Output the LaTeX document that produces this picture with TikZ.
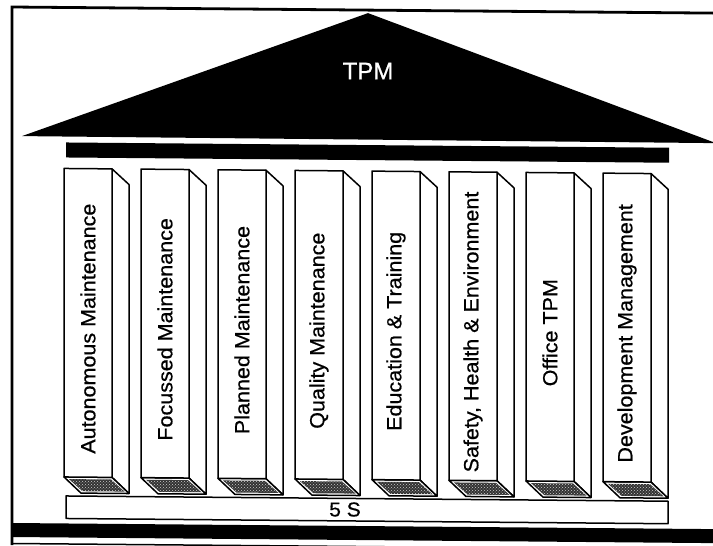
\documentclass[tikz,border=0pt]{standalone}
\usepackage{fontspec}
\setmainfont{Liberation Sans}
\newfontfamily\pillarfont[FakeStretch=1.05,FakeBold=0.6]{Liberation Sans}
\newfontfamily\headfont[FakeBold=0.8]{Liberation Sans}
\usetikzlibrary{patterns}
\begin{document}
\begin{tikzpicture}[x=1pt,y=-1pt,
  pillartext/.style={rotate=90,font=\pillarfont\fontsize{20.5}{24}\selectfont,inner sep=0pt},
  face/.style={draw=black,line width=1.5pt,fill=white,line join=round},
  texture/.style={fill=black!80,postaction={pattern=crosshatch dots,pattern color=white!80!black}},
  frameline/.style={line width=2.8pt}]
\useasboundingbox (0,0) rectangle (713,546);
\fill[white] (0,0) rectangle (713,546);
\begin{scope}[yshift=3.1pt]
\begin{scope}[yslant=-0.0087]
  % frame
  \draw[frameline] (12,548) -- (12,10) -- (720,10);
  \fill (12,526) rectangle (720,540);
  \draw[line width=1.5pt] (12,546.5) -- (720,546.5);
  % roof
  \fill (22,139) -- (368,13) -- (716,140) -- cycle;
  \node[text=white,font=\headfont\fontsize{24}{28}\selectfont] (tpm) at (368,71) {TPM};
  % beam
  \fill (66,145) rectangle (669,160);
  % base
  \draw[face] (66,498.5) rectangle (668,521);
  \node[font=\pillarfont\fontsize{20}{24}\selectfont] (fives) at (345,509.6) {5 S};
  % pillars
  \foreach \i/\t in {0/Autonomous Maintenance,1/Focussed Maintenance,2/Planned Maintenance,3/Quality Maintenance,4/{Education \& Training},5/{Safety, Health \& Environment},6/Office TPM,7/Development Management}{
    \pgfmathsetmacro\x{64+77*\i}
    \draw[face] (\x+48,171) -- (\x+65,186.5) -- (\x+65,495.5) -- (\x+48,479.5) -- cycle;
    \draw[face] (\x,479.5) -- (\x+48,479.5) -- (\x+65,495.5) -- (\x+17,495.5) -- cycle;
    \path[texture] (\x+5,481.6) -- (\x+47,481.6) -- (\x+60.5,493.6) -- (\x+18.5,493.6) -- cycle;
    \draw[face] (\x,171) rectangle (\x+48,479.5);
    \node[pillartext] (p\i) at (\x+24,331) {\t};
  }
\end{scope}
\end{scope}
\end{tikzpicture}
\end{document}
